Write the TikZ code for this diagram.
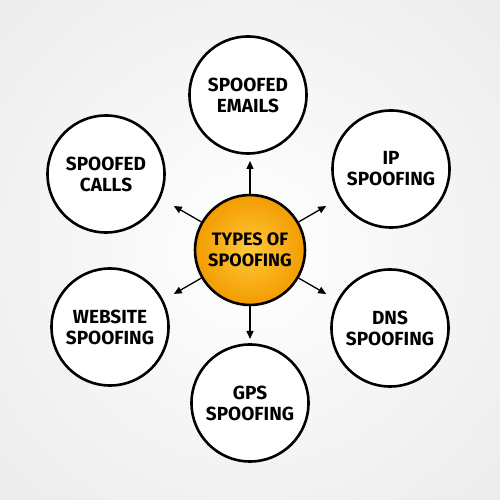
\documentclass[tikz,border=0pt]{standalone}
\usepackage{fontspec}
\setmainfont{Fira Sans}
\usetikzlibrary{arrows.meta,calc}
\definecolor{orOut}{HTML}{F39C00}
\definecolor{orIn}{HTML}{FFC83C}
\definecolor{bgOut}{HTML}{EBEBEB}
\tikzset{
  topic/.style={circle, draw=black, line width=2.6pt, minimum size=117pt, inner sep=0pt,
    align=center, font=\fontsize{19}{21}\selectfont\bfseries, fill=white},
  hub/.style={circle, draw=black, line width=2.6pt, minimum size=110pt, inner sep=0pt,
    align=center, font=\fontsize{18}{21}\selectfont\bfseries,
    inner color=orIn, outer color=orOut},
  conn/.style={line width=1.3pt, -{Triangle[length=8pt,width=7pt]}}
}
\begin{document}
\begin{tikzpicture}[x=1pt,y=1pt]
\useasboundingbox (0,0) rectangle (500,500);
\shade[inner color=white, outer color=bgOut] (-120,-120) rectangle (620,620);
\node[hub] (c) at (250,250) {TYPES OF\\SPOOFING};
\node[topic] (em) at (248,405) {SPOOFED\\EMAILS};
\node[topic] (ip) at (391,331) {IP\\SPOOFING};
\node[topic] (ca) at (106,326) {SPOOFED\\CALLS};
\node[topic] (dn) at (390,172) {DNS\\SPOOFING};
\node[topic] (ws) at (110,173) {WEBSITE\\SPOOFING};
\node[topic] (gp) at (250,97) {GPS\\SPOOFING};
\coordinate (aem) at ($(c)+(90:89)$);
\coordinate (aip) at ($(c)+(30:88)$);
\coordinate (aca) at ($(c)+(150:88)$);
\coordinate (adn) at ($(c)+(-30:88)$);
\coordinate (aws) at ($(c)+(210:88)$);
\coordinate (agp) at ($(c)+(270:89)$);
\draw[conn] (c.90) -- (aem);
\draw[conn] (c.30) -- (aip);
\draw[conn] (c.150) -- (aca);
\draw[conn] (c.-30) -- (adn);
\draw[conn] (c.210) -- (aws);
\draw[conn] (c.270) -- (agp);
\end{tikzpicture}
\end{document}
